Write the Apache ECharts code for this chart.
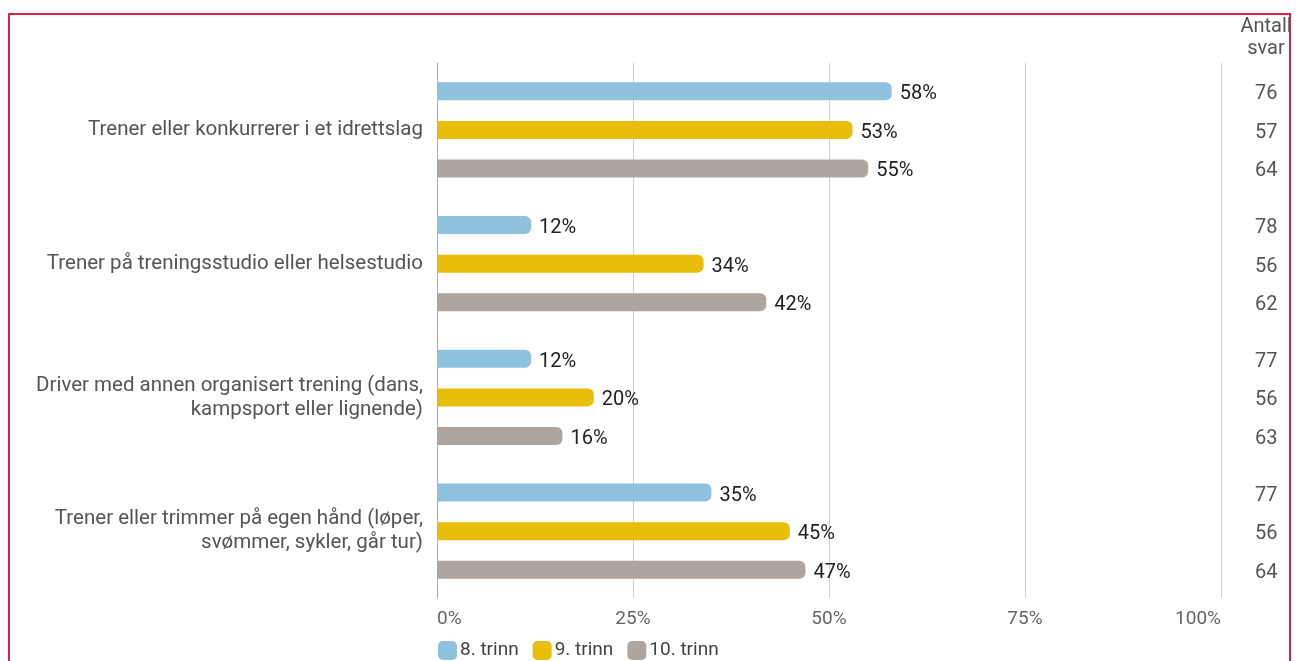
<!DOCTYPE html>
<html><head><meta charset="utf-8">
<script src="https://cdn.jsdelivr.net/npm/echarts@6/dist/echarts.min.js"></script>
<style>html,body{margin:0;padding:0;background:#fff;}#c{width:1297px;height:661px;}</style>
</head><body><div id="c"></div>
<script>
const categories = [
  "Trener eller konkurrerer i et idrettslag",
  "Trener på treningsstudio eller helsestudio",
  "Driver med annen organisert trening (dans,\nkampsport eller lignende)",
  "Trener eller trimmer på egen hånd (løper,\nsvømmer, sykler, går tur)"
];
const seriesNames = ["8. trinn", "9. trinn", "10. trinn"];
const trinn8 = [58, 12, 12, 35];
const trinn9 = [53, 34, 20, 45];
const trinn10 = [55, 42, 16, 47];
const antall8 = [76, 78, 77, 77];
const antall9 = [57, 56, 56, 56];
const antall10 = [64, 62, 63, 64];
const xTicks = [0, 25, 50, 75, 100];
const colors = ["#8ec2df", "#e9bd0a", "#ada59e"];

const values = [trinn8, trinn9, trinn10];
const counts = [antall8, antall9, antall10];
const FONT = "Roboto";

const series = [];
values.forEach((v, i) => {
  series.push({
    name: seriesNames[i], type: "bar", yAxisIndex: 0, data: v,
    barWidth: 18, barGap: "114%",
    itemStyle: { color: colors[i], borderRadius: [0, 6, 6, 0] },
    label: { show: true, position: "right", distance: 8, formatter: "{c}%", offset: [0, 3],
      color: "#222", fontSize: 20, fontFamily: FONT },
    silent: true
  });
});
counts.forEach((c, i) => {
  series.push({
    name: "antall" + i, type: "bar", yAxisIndex: 1,
    data: c.map(() => xTicks[xTicks.length - 1]),
    barWidth: 18, barGap: "114%",
    itemStyle: { color: "rgba(0,0,0,0)" },
    label: { show: true, position: "right", distance: 34, offset: [0, 3],
      formatter: p => String(c[p.dataIndex]),
      color: "#555", fontSize: 20, fontFamily: FONT },
    silent: true
  });
});

const chart = echarts.init(document.getElementById("c"), null, { renderer: "canvas" });
chart.setOption({
  animation: false,
  textStyle: { fontFamily: FONT },
  grid: { left: 437, right: 76, top: 63, bottom: 63, containLabel: false },
  xAxis: {
    type: "value", min: 0, max: 100, interval: 25,
    axisLabel: { formatter: "{value}%", color: "#666", fontSize: 19, margin: 12, fontFamily: FONT,
      alignMinLabel: "left", alignMaxLabel: "right" },
    splitLine: { show: true, lineStyle: { color: "#cfcfcf", width: 1 } },
    axisLine: { show: false }, axisTick: { show: false }
  },
  yAxis: [
    { type: "category", data: categories, inverse: true,
      axisLine: { show: true, lineStyle: { color: "#aaa" } },
      axisTick: { show: false },
      axisLabel: { color: "#555", fontSize: 20.5, margin: 14, lineHeight: 24, fontFamily: FONT, align: "right",
        verticalAlign: "middle", padding: [6, 0, 0, 0] } },
    { type: "category", data: categories, inverse: true, show: false }
  ],
  legend: {
    data: seriesNames, left: 438, top: 641, padding: 0, itemWidth: 19, itemHeight: 19, itemGap: 14,
    icon: "roundRect",
    textStyle: { color: "#444", fontSize: 19, fontFamily: FONT, padding: [0, 0, 0, -2] }
  },
  graphic: [{
    type: "rect", shape: { x: 9, y: 14, width: 1281, height: 700 },
    style: { fill: "none", stroke: "#dc1f44", lineWidth: 2 }, silent: true
  }, {
    type: "text", x: 1266, y: 16,
    style: { text: "Antall\nsvar", fill: "#555", font: "20px " + FONT, textAlign: "center", lineHeight: 22 },
    silent: true
  }],
  series: series
});
</script></body></html>
